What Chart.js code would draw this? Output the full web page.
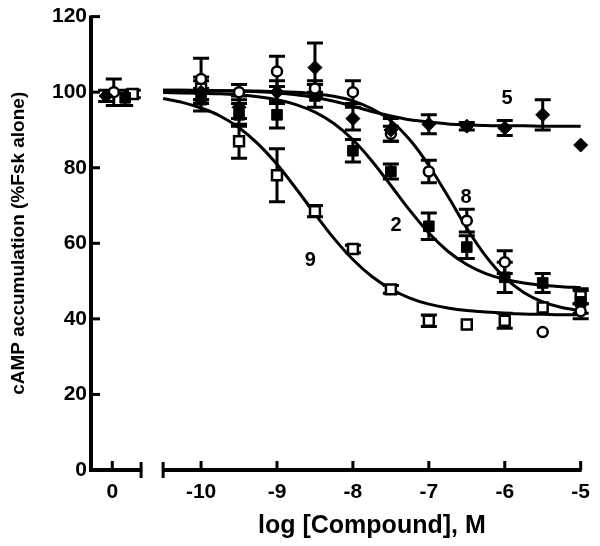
<!DOCTYPE html>
<html>
<head>
<meta charset="utf-8">
<script src="https://cdn.jsdelivr.net/npm/chart.js@4.4.0/dist/chart.umd.min.js"></script>
<style>
  html, body { margin: 0; padding: 0; background: #fff; }
  #wrap { width: 600px; height: 546px; }
</style>
</head>
<body>
<div id="wrap"><canvas id="grafico"></canvas></div>
<script>
// log [Compound], M
const logConc = [-10, -9.5, -9, -8.5, -8, -7.5, -7, -6.5, -6, -5.5, -5];

// mean cAMP (% Fsk alone) and SEM per compound
const comp5 = [100, 96, 100, 106.5, 93, 90, 91.5, 91, 90.5, 94, 86];
const err5 = [3, 3, 3, 6.5, 3, 3, 2.5, 1, 2, 4, 0];
const comp8 = [103.5, 100, 105.5, 101, 100, 89, 79, 66, 55, 36.5, 42];
const err8 = [5.5, 2, 4, 2, 3, 2, 3, 3, 3, 0, 2];
const comp2 = [98, 94, 94, 99, 84.5, 79, 64.5, 59, 51, 49.5, 44.5];
const err2 = [3, 3, 3.5, 3, 3, 2, 3.5, 3, 4, 2.5, 3];
const comp9 = [101, 87, 78, 68.5, 58.5, 47.8, 39.5, 38.5, 39.5, 43, 46];
const err9 = [3, 4.5, 7, 1.5, 1, 1, 1.5, 0, 2, 0, 2];

// vehicle ("0") column: 5, 8, 2, 9
const ctrlVals = [99, 100, 98.5, 99.5];
const ctrlErr = [1.5, 3.5, 2, 1];
const ctrlX = [-11.25, -11.15, -11.0, -10.9];

// fitted curves
const fitX = [-10.5, -10.25, -10, -9.75, -9.5, -9.25, -9, -8.75, -8.5, -8.25, -8, -7.75,
  -7.5, -7.25, -7, -6.75, -6.5, -6.25, -6, -5.75, -5.5, -5.25, -5];
const fit5 = [100.5, 100.5, 100.4, 100.4, 100.3, 100.1, 99.8, 99.3, 98.6, 97.6, 96.3, 94.9,
  93.7, 92.7, 92.1, 91.6, 91.4, 91.2, 91.1, 91.1, 91.0, 91.0, 91.0];
const fit8 = [100.5, 100.5, 100.5, 100.4, 100.4, 100.3, 100.2, 100.0, 99.6, 98.9, 97.7, 95.6,
  92.4, 87.4, 80.6, 72.5, 64.0, 56.6, 50.9, 47.0, 44.5, 43.0, 42.2];
const fit2 = [99.9, 99.8, 99.7, 99.6, 99.3, 98.8, 98.0, 96.7, 94.7, 91.7, 87.4, 81.8,
  75.3, 68.7, 62.7, 57.9, 54.4, 52.0, 50.5, 49.5, 48.9, 48.5, 48.3];
const fit9 = [98.3, 97.3, 95.8, 93.7, 90.6, 86.3, 80.9, 74.5, 67.8, 61.3, 55.7, 51.2,
  47.9, 45.5, 43.9, 42.9, 42.2, 41.8, 41.5, 41.3, 41.2, 41.1, 41.1];

// curve labels
const curveLabels = ['5', '8', '2', '9'];
const labelX = [-5.97, -6.51, -7.43, -8.56];
const labelY = [98.2, 72, 64.6, 55.4];

// axis ticks
const yTicks = [0, 20, 40, 60, 80, 100, 120];
const ctrlPos = -11.17;
const xTicks = [ctrlPos, -10, -9, -8, -7, -6, -5];
const axisBreak = [-10.79, -10.5];

const FONT = '"Liberation Sans", Arial, Helvetica, sans-serif';

function puntos(k, vals, errs) {
  return {
    pts: [{ x: ctrlX[k], y: ctrlVals[k] }].concat(logConc.map((c, i) => ({ x: c, y: vals[i] }))),
    errs: [ctrlErr[k]].concat(errs)
  };
}

function curva(vals) {
  return fitX.map((c, i) => ({ x: c, y: vals[i] }));
}

const s5 = puntos(0, comp5, err5);
const s8 = puntos(1, comp8, err8);
const s2 = puntos(2, comp2, err2);
const s9 = puntos(3, comp9, err9);

const errorBarsPlugin = {
  id: 'errorBars',
  beforeDatasetsDraw(chart) {
    const { ctx, scales: { x, y } } = chart;
    ctx.save();
    ctx.strokeStyle = '#000';
    ctx.lineWidth = 3;
    chart.data.datasets.forEach(ds => {
      if (!ds.errores) return;
      ds.data.forEach((p, i) => {
        const e = ds.errores[i];
        if (!e) return;
        const px = x.getPixelForValue(p.x);
        const top = y.getPixelForValue(p.y + e);
        const bot = y.getPixelForValue(p.y - e);
        ctx.beginPath();
        ctx.moveTo(px, top); ctx.lineTo(px, bot);
        ctx.moveTo(px - 8, top); ctx.lineTo(px + 8, top);
        ctx.moveTo(px - 8, bot); ctx.lineTo(px + 8, bot);
        ctx.stroke();
      });
    });
    ctx.restore();
  }
};

const ejesPlugin = {
  id: 'ejes',
  afterDraw(chart) {
    const { ctx, scales: { x, y } } = chart;
    const yb = y.getPixelForValue(0);
    const yt = y.getPixelForValue(120);
    const xl = x.getPixelForValue(x.min);
    ctx.save();
    ctx.strokeStyle = '#000';
    ctx.lineCap = 'butt';

    // y axis with inward ticks
    ctx.lineWidth = 4;
    ctx.beginPath();
    ctx.moveTo(xl, yt - 1);
    ctx.lineTo(xl, yb + 2);
    ctx.stroke();
    ctx.lineWidth = 3;
    yTicks.forEach(v => {
      const py = y.getPixelForValue(v);
      ctx.beginPath(); ctx.moveTo(xl, py); ctx.lineTo(xl + 9, py); ctx.stroke();
    });

    // broken x axis
    const b1 = x.getPixelForValue(axisBreak[0]);
    const b2 = x.getPixelForValue(axisBreak[1]);
    const xr = x.getPixelForValue(x.max);
    ctx.lineWidth = 4;
    ctx.beginPath();
    ctx.moveTo(xl - 2, yb); ctx.lineTo(b1, yb);
    ctx.moveTo(b2, yb); ctx.lineTo(xr + 1, yb);
    ctx.stroke();
    ctx.lineWidth = 3;
    ctx.beginPath();
    ctx.moveTo(b1, yb - 8); ctx.lineTo(b1, yb + 8);
    ctx.moveTo(b2, yb - 8); ctx.lineTo(b2, yb + 8);
    xTicks.forEach(v => {
      const px = x.getPixelForValue(v);
      ctx.moveTo(px, yb); ctx.lineTo(px, yb - 9);
    });
    ctx.stroke();

    // x title, centred on the concentration segment
    ctx.fillStyle = '#000';
    ctx.font = 'bold 25px ' + FONT;
    ctx.textAlign = 'center';
    ctx.textBaseline = 'middle';
    ctx.fillText('log [Compound], M', (b2 + xr) / 2, yb + 56);

    // curve labels
    ctx.font = 'bold 20px ' + FONT;
    curveLabels.forEach((t, i) => {
      ctx.fillText(t, x.getPixelForValue(labelX[i]), y.getPixelForValue(labelY[i]));
    });
    ctx.restore();
  }
};

const marcador = {
  showLine: false,
  borderColor: '#000',
  pointBorderColor: '#000',
  clip: false
};

const lineaFit = {
  showLine: true,
  borderColor: '#000',
  borderWidth: 3,
  pointRadius: 0,
  pointHoverRadius: 0,
  tension: 0.4,
  cubicInterpolationMode: 'monotone',
  clip: false
};

new Chart(document.getElementById('grafico').getContext('2d'), {
  type: 'scatter',
  data: {
    datasets: [
      Object.assign({ label: '5', data: s5.pts, errores: s5.errs, pointStyle: 'rectRot',
        pointRadius: 7, pointBackgroundColor: '#000', pointBorderWidth: 1 }, marcador),
      Object.assign({ label: '8', data: s8.pts, errores: s8.errs, pointStyle: 'circle',
        pointRadius: 5, pointBackgroundColor: '#fff', pointBorderWidth: 2.5 }, marcador),
      Object.assign({ label: '2', data: s2.pts, errores: s2.errs, pointStyle: 'rect',
        pointRadius: 7.5, pointBackgroundColor: '#000', pointBorderWidth: 1 }, marcador),
      Object.assign({ label: '9', data: s9.pts, errores: s9.errs, pointStyle: 'rect',
        pointRadius: 7, pointBackgroundColor: '#fff', pointBorderWidth: 2.5 }, marcador),
      Object.assign({ label: 'fit 5', data: curva(fit5) }, lineaFit),
      Object.assign({ label: 'fit 8', data: curva(fit8) }, lineaFit),
      Object.assign({ label: 'fit 2', data: curva(fit2) }, lineaFit),
      Object.assign({ label: 'fit 9', data: curva(fit9) }, lineaFit)
    ]
  },
  options: {
    responsive: true,
    maintainAspectRatio: false,
    animation: false,
    devicePixelRatio: 1,
    layout: { padding: { top: 15, right: 18, left: 0, bottom: 0 } },
    plugins: {
      legend: { display: false },
      tooltip: { enabled: false }
    },
    scales: {
      x: {
        type: 'linear',
        min: -11.45,
        max: -5,
        grid: { display: false, drawTicks: false },
        border: { display: false },
        afterFit: s => { s.height = 76; },
        afterBuildTicks: s => { s.ticks = xTicks.map(v => ({ value: v })); },
        ticks: {
          autoSkip: false,
          maxRotation: 0,
          padding: 10,
          color: '#000',
          font: { family: FONT, size: 21, weight: 'bold' },
          callback: v => (v === ctrlPos ? '0' : String(v))
        }
      },
      y: {
        min: 0,
        max: 120,
        grid: { display: false, drawTicks: false },
        border: { display: false },
        afterFit: s => { s.width = 91; },
        afterBuildTicks: s => { s.ticks = yTicks.map(v => ({ value: v })); },
        ticks: {
          padding: 4,
          color: '#000',
          font: { family: FONT, size: 21, weight: 'bold' }
        },
        title: {
          display: true,
          text: 'cAMP accumulation (%Fsk alone)',
          color: '#000',
          padding: { top: 7, bottom: 0 },
          font: { family: FONT, size: 19, weight: 'bold' }
        }
      }
    }
  },
  plugins: [errorBarsPlugin, ejesPlugin]
});
</script>
</body>
</html>
